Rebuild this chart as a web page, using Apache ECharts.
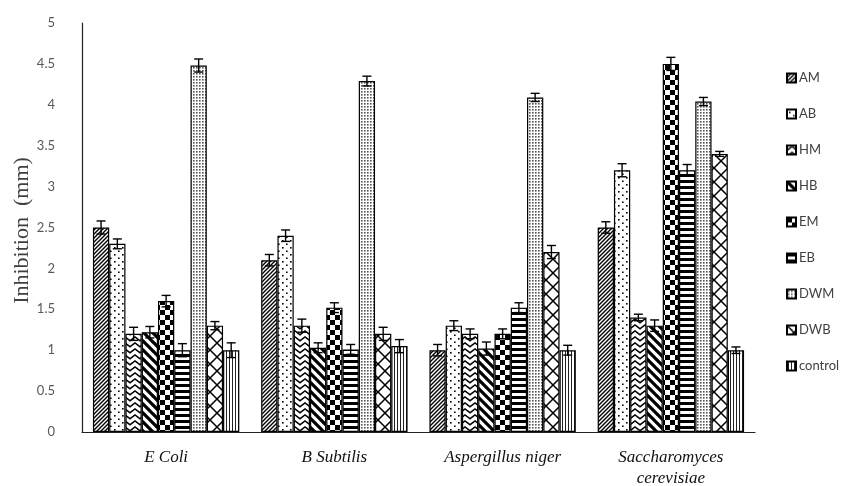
<!DOCTYPE html>
<html><head><meta charset="utf-8">
<script src="https://cdn.jsdelivr.net/npm/echarts@6/dist/echarts.min.js"></script>
<style>html,body{margin:0;padding:0;background:#fff}#c{width:862px;height:486px}</style>
</head><body><div id="c"></div>
<script>
const categories = ['E Coli', 'B Subtilis', 'Aspergillus niger', 'Saccharomyces\ncerevisiae'];
const seriesNames = ['AM', 'AB', 'HM', 'HB', 'EM', 'EB', 'DWM', 'DWB', 'control'];
const AM = [2.5, 2.1, 1.0, 2.5];
const AB = [2.3, 2.4, 1.3, 3.2];
const HM = [1.2, 1.3, 1.2, 1.4];
const HB = [1.22, 1.03, 1.02, 1.3];
const EM = [1.6, 1.52, 1.2, 4.5];
const EB = [1.0, 1.01, 1.52, 3.2];
const DWM = [4.48, 4.29, 4.09, 4.04];
const DWB = [1.3, 1.2, 2.2, 3.4];
const control = [1.0, 1.05, 1.0, 1.0];
const errAM = [0.08, 0.07, 0.07, 0.07];
const errAB = [0.06, 0.07, 0.06, 0.08];
const errHM = [0.08, 0.08, 0.06, 0.04];
const errHB = [0.07, 0.06, 0.08, 0.07];
const errEM = [0.07, 0.06, 0.06, 0.08];
const errEB = [0.08, 0.06, 0.06, 0.07];
const errDWM = [0.08, 0.06, 0.05, 0.05];
const errDWB = [0.05, 0.08, 0.08, 0.03];
const errControl = [0.09, 0.08, 0.06, 0.04];
const yTicks = [0, 0.5, 1, 1.5, 2, 2.5, 3, 3.5, 4, 4.5, 5];

const values = [AM, AB, HM, HB, EM, EB, DWM, DWB, control];
const errors = [errAM, errAB, errHM, errHB, errEM, errEB, errDWM, errDWB, errControl];

const CAT_GAP = 0.13;

function tile(w, h, draw) {
  const c = document.createElement('canvas');
  c.width = w; c.height = h;
  const g = c.getContext('2d');
  g.fillStyle = '#fff'; g.fillRect(0, 0, w, h);
  g.fillStyle = '#000'; g.strokeStyle = '#000';
  draw(g, w, h);
  return { image: c, repeat: 'repeat' };
}
function diag(g, s, lw, back) {
  g.lineWidth = lw;
  g.beginPath();
  for (let k = -1; k <= 1; k++) {
    if (!back) { g.moveTo(k * s - 1, s + 1); g.lineTo(k * s + s + 1, -1); }
    else { g.moveTo(k * s - 1, -1); g.lineTo(k * s + s + 1, s + 1); }
  }
  g.stroke();
}
const patterns = [
  tile(4, 4, (g) => diag(g, 4, 1.4, false)),
  tile(8, 7, (g) => { g.fillRect(2, 2, 1.6, 1.6); g.fillRect(6, 5.5, 1.6, 1.6); }),
  tile(10, 6, (g) => { g.lineWidth = 1.5; g.beginPath(); g.moveTo(-1, 5.5); g.lineTo(5, 1); g.lineTo(11, 5.5); g.stroke(); }),
  tile(9, 9, (g) => diag(g, 9, 3.2, true)),
  tile(10, 10, (g) => { g.fillRect(0, 0, 5, 5); g.fillRect(5, 5, 5, 5); }),
  tile(2, 6, (g) => { g.fillRect(0, 0, 2, 3); }),
  tile(3, 3, (g) => { g.fillStyle = '#555'; g.fillRect(1, 1, 1.6, 1.6); }),
  tile(14, 14, (g) => { diag(g, 14, 1.5, false); diag(g, 14, 1.5, true); }),
  tile(3, 2, (g) => { g.fillStyle = '#222'; g.fillRect(1, 0, 1, 2); })
];

const barSeries = seriesNames.map((name, i) => ({
  name: name,
  type: 'bar',
  barGap: '0%',
  barCategoryGap: (CAT_GAP * 100) + '%',
  data: values[i],
  itemStyle: { color: patterns[i], borderColor: '#000', borderWidth: 1.2 },
  emphasis: { disabled: true },
  z: 2
}));

const errData = [];
for (let s = 0; s < seriesNames.length; s++) {
  for (let c = 0; c < categories.length; c++) {
    errData.push([c, values[s][c], errors[s][c], s]);
  }
}
const nS = seriesNames.length;
const errSeries = {
  type: 'custom',
  name: 'err',
  z: 5,
  silent: true,
  data: errData,
  encode: { x: 0, y: 1 },
  renderItem: function (params, api) {
    const c = api.value(0), v = api.value(1), e = api.value(2), s = api.value(3);
    const band = api.size([1, 0])[0];
    const bw = band * (1 - CAT_GAP) / nS;
    const cx = api.coord([c, v])[0] - band * (1 - CAT_GAP) / 2 + (s + 0.5) * bw;
    const yt = api.coord([c, v + e])[1];
    const yb = api.coord([c, v - e])[1];
    const hw = 4.5;
    const st = { stroke: '#000', lineWidth: 1.4 };
    return {
      type: 'group',
      children: [
        { type: 'line', shape: { x1: cx, y1: yt, x2: cx, y2: yb }, style: st },
        { type: 'line', shape: { x1: cx - hw, y1: yt, x2: cx + hw, y2: yt }, style: st },
        { type: 'line', shape: { x1: cx - hw, y1: yb, x2: cx + hw, y2: yb }, style: st }
      ]
    };
  }
};

const chart = echarts.init(document.getElementById('c'), null, { renderer: 'canvas' });
chart.setOption({
  animation: false,
  backgroundColor: '#fff',
  grid: { left: 82, right: 107, top: 23, bottom: 54, outerBoundsMode: 'none', containLabel: false },
  legend: {
    data: seriesNames,
    orient: 'vertical',
    left: 781,
    top: 66,
    itemWidth: 9,
    itemHeight: 9,
    itemGap: 22,
    icon: 'rect',
    textStyle: { fontFamily: 'Lato', fontSize: 13, color: '#404040', lineHeight: 14, padding: [0, 0, 0, -2] },
    selectedMode: false
  },
  xAxis: {
    type: 'category',
    data: categories,
    axisLine: { lineStyle: { color: '#222', width: 1.2 } },
    axisTick: { show: false },
    axisLabel: { fontFamily: 'Liberation Serif', fontStyle: 'italic', fontSize: 17, color: '#111', margin: 15, lineHeight: 21 }
  },
  yAxis: {
    type: 'value',
    min: yTicks[0],
    max: yTicks[yTicks.length - 1],
    interval: 0.5,
    name: 'Inhibition  (mm)',
    nameLocation: 'middle',
    nameGap: 49,
    nameMoveOverlap: false,
    nameTextStyle: { fontFamily: 'Liberation Serif', fontSize: 22, color: '#404040', padding: [0, 6, 0, 0] },
    axisLine: { show: true, lineStyle: { color: '#222', width: 1.2 } },
    axisTick: { show: false },
    splitLine: { show: false },
    axisLabel: { fontFamily: 'Lato', fontSize: 13, color: '#595959', margin: 27 }
  },
  series: barSeries.concat([errSeries])
});
</script></body></html>
